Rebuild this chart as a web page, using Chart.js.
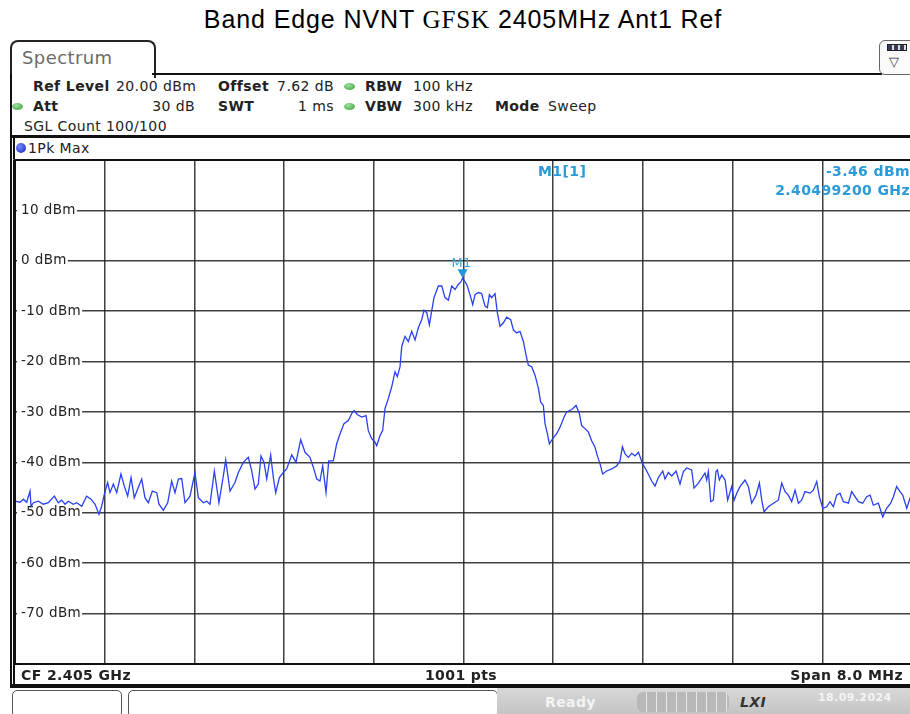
<!DOCTYPE html>
<html lang="en">
<head>
  <meta charset="UTF-8">
  <title>Band Edge NVNT GFSK 2405MHz Ant1 Ref</title>
  <script src="https://cdn.jsdelivr.net/npm/chart.js"></script>
  <style>
    body {
      margin: 0;
      width: 910px;
      height: 714px;
      overflow: hidden;
      position: relative;
      background: white;
      font-family: 'DejaVu Sans', Verdana, sans-serif;
      font-size: 14px;
      letter-spacing: 0.4px;
      color: #222;
    }
    .abs { position: absolute; white-space: nowrap; line-height: 16px; }
    .b { font-weight: bold; }
    #title {
      position: absolute;
      top: 5px;
      left: 0;
      width: 926px;
      text-align: center;
      font-family: 'Liberation Sans', Arial, sans-serif;
      font-size: 25px;
      letter-spacing: 0.9px;
      color: #000;
    }
    #title span { font-family: 'Liberation Serif', 'Times New Roman', serif; }
    #tab {
      position: absolute;
      left: 10px; top: 40px;
      width: 142px; height: 36px;
      border: 2px solid #222;
      border-bottom: none;
      border-radius: 8px 8px 0 0;
      background: white;
    }
    .line { position: absolute; background: #111; }
    .dot {
      position: absolute;
      width: 11px; height: 7px;
      border-radius: 50%;
      background: radial-gradient(ellipse at 40% 35%, #9be29b, #3a9a3a);
    }
    #chartCanvas { position: absolute; left: 0; top: 0; }
    #status {
      position: absolute; left: 0; top: 688px; width: 910px; height: 26px;
      background: white;
    }
  </style>
</head>
<body>
  <div id="title">Band Edge NVNT <span>GFSK</span> 2405MHz Ant1 Ref</div>

  <div id="tab"></div>
  <div class="abs" style="left:22px;top:48px;font-size:18px;line-height:20px;color:#6b6b6b;">Spectrum</div>
  <div class="line" style="left:152px;top:73px;width:730px;height:2px;"></div>
  <div style="position:absolute;left:879px;top:40px;width:34px;height:33px;border:1px solid #666;border-radius:6px;background:#fafafa;"></div>
  <div class="abs" style="left:887px;top:44px;width:18px;height:5px;background:repeating-linear-gradient(90deg,#3a3a5a 0 4px,#ddd 4px 6px);border:1px solid #222;"></div>
  <div class="abs" style="left:889px;top:54px;font-size:13px;color:#333;">&#9661;</div>

  <!-- left frame -->
  <div class="line" style="left:10px;top:74px;width:2px;height:616px;"></div>

  <!-- info rows -->
  <div class="abs b" style="left:33px;top:78px;">Ref Level</div>
  <div class="abs" style="left:116px;top:78px;">20.00 dBm</div>
  <div class="abs b" style="left:218px;top:78px;">Offset</div>
  <div class="abs" style="left:260px;top:78px;width:74px;text-align:right;">7.62 dB</div>
  <div class="dot" style="left:344px;top:83px;"></div>
  <div class="abs b" style="left:365px;top:78px;">RBW</div>
  <div class="abs" style="left:413px;top:78px;">100 kHz</div>

  <div class="dot" style="left:12px;top:103px;"></div>
  <div class="abs b" style="left:33px;top:98px;">Att</div>
  <div class="abs" style="left:120px;top:98px;width:75px;text-align:right;">30 dB</div>
  <div class="abs b" style="left:218px;top:98px;">SWT</div>
  <div class="abs" style="left:260px;top:98px;width:74px;text-align:right;">1 ms</div>
  <div class="dot" style="left:344px;top:103px;"></div>
  <div class="abs b" style="left:365px;top:98px;">VBW</div>
  <div class="abs" style="left:413px;top:98px;">300 kHz</div>
  <div class="abs b" style="left:495px;top:98px;">Mode</div>
  <div class="abs" style="left:548px;top:98px;">Sweep</div>

  <div class="abs" style="left:24px;top:118px;">SGL Count 100/100</div>

  <div class="line" style="left:12px;top:135px;width:900px;height:3px;"></div>
  <div class="line" style="left:13px;top:138px;width:2px;height:550px;"></div>
  <div style="position:absolute;left:16px;top:143px;width:10px;height:10px;border-radius:50%;background:radial-gradient(circle at 35% 35%, #7a8cff, #1020c0);"></div>
  <div class="abs" style="left:28px;top:140px;">1Pk Max</div>
  <div class="line" style="left:13px;top:159px;width:900px;height:1px;background:#777;"></div>

  <canvas id="chartCanvas" width="920" height="714"></canvas>

  <!-- marker readout -->
  <div class="abs b" style="left:538px;top:163px;color:#2a9ad8;">M1[1]</div>
  <div class="abs b" style="left:740px;top:163px;width:170px;text-align:right;color:#2a9ad8;">-3.46 dBm</div>
  <div class="abs b" style="left:720px;top:182px;width:190px;text-align:right;color:#2a9ad8;">2.40499200 GHz</div>

  <!-- bottom label row -->
  <div class="abs b" style="left:21px;top:667px;">CF 2.405 GHz</div>
  <div class="abs b" style="left:401px;top:667px;width:120px;text-align:center;">1001 pts</div>
  <div class="abs b" style="left:680px;top:667px;width:223px;text-align:right;">Span 8.0 MHz</div>
  <div class="line" style="left:12px;top:684px;width:900px;height:4px;"></div>

  <div id="status">
    <div style="position:absolute;left:12px;top:2px;width:108px;height:26px;border:1px solid #555;border-radius:5px;"></div>
    <div style="position:absolute;left:128px;top:2px;width:368px;height:26px;border:1px solid #555;border-radius:5px;"></div>
    <div style="position:absolute;left:497px;top:0;width:413px;height:26px;background:linear-gradient(#d8d8d8,#c4c4c4);"></div>
    <div class="abs b" style="left:545px;top:6px;color:#f4f4f4;">Ready</div>
    <div style="position:absolute;left:637px;top:4px;width:92px;height:20px;border-radius:6px;background:repeating-linear-gradient(90deg,#b8b8b8 0 9px,#e8e8e8 9px 10px);"></div>
    <div class="abs b" style="left:740px;top:6px;color:#333;font-style:italic;">LXI</div>
    <div class="abs b" style="left:818px;top:2px;color:#f4f4f4;font-size:11px;">18.09.2024</div>
  </div>

<script>
  // sweep settings
  const startMHz = 2401;
  const stopMHz = 2409;
  const xDivs = [0, 0.8, 1.6, 2.4, 3.2, 4.0, 4.8, 5.6, 6.4, 7.2, 8.0];
  const yTickLabels = [10, 0, -10, -20, -30, -40, -50, -60, -70];

  // trace: offset from start (MHz) and level (dBm)
  const freqOffsetMHz = [
    0.000, 0.045, 0.074, 0.104, 0.134, 0.143, 0.164, 0.208, 0.253, 0.297,
    0.351, 0.386, 0.416, 0.446, 0.476, 0.520, 0.550, 0.595, 0.639, 0.678,
    0.714, 0.749, 0.773, 0.797, 0.826, 0.847, 0.877, 0.907, 0.945, 0.975,
    1.005, 1.035, 1.064, 1.094, 1.130, 1.159, 1.189, 1.225, 1.264, 1.284,
    1.323, 1.362, 1.397, 1.427, 1.457, 1.487, 1.516, 1.561, 1.605, 1.635,
    1.680, 1.709, 1.739, 1.778, 1.819, 1.858, 1.879, 1.918, 1.962, 1.992,
    2.036, 2.081, 2.111, 2.141, 2.170, 2.194, 2.221, 2.245, 2.280, 2.304,
    2.325, 2.358, 2.393, 2.423, 2.468, 2.506, 2.548, 2.587, 2.631, 2.661,
    2.691, 2.720, 2.744, 2.774, 2.798, 2.839, 2.869, 2.899, 2.934, 2.973,
    3.003, 3.024, 3.053, 3.092, 3.131, 3.151, 3.181, 3.211, 3.226, 3.255,
    3.279, 3.300, 3.330, 3.360, 3.389, 3.410, 3.434, 3.449, 3.478, 3.508,
    3.538, 3.568, 3.597, 3.627, 3.648, 3.672, 3.696, 3.716, 3.737, 3.776,
    3.806, 3.835, 3.865, 3.895, 3.925, 3.954, 3.976, 3.992, 4.029, 4.058,
    4.082, 4.103, 4.133, 4.162, 4.192, 4.213, 4.231, 4.251, 4.281, 4.302,
    4.326, 4.356, 4.385, 4.421, 4.445, 4.474, 4.504, 4.534, 4.558, 4.578,
    4.608, 4.638, 4.668, 4.688, 4.712, 4.727, 4.748, 4.766, 4.796, 4.831,
    4.861, 4.897, 4.920, 4.965, 5.004, 5.033, 5.054, 5.084, 5.114, 5.143,
    5.173, 5.194, 5.218, 5.241, 5.277, 5.322, 5.366, 5.396, 5.417, 5.441,
    5.470, 5.500, 5.530, 5.560, 5.598, 5.634, 5.679, 5.708, 5.738, 5.777,
    5.797, 5.827, 5.857, 5.896, 5.931, 5.961, 5.991, 6.035, 6.056, 6.095,
    6.124, 6.154, 6.169, 6.184, 6.205, 6.228, 6.252, 6.264, 6.282, 6.303,
    6.333, 6.356, 6.392, 6.413, 6.437, 6.466, 6.511, 6.541, 6.570, 6.609,
    6.639, 6.660, 6.680, 6.719, 6.764, 6.808, 6.838, 6.868, 6.897, 6.927,
    6.957, 6.987, 7.016, 7.046, 7.091, 7.120, 7.150, 7.174, 7.204, 7.239,
    7.269, 7.299, 7.328, 7.358, 7.388, 7.433, 7.462, 7.492, 7.522, 7.560,
    7.596, 7.626, 7.655, 7.700, 7.739, 7.774, 7.810, 7.834, 7.863, 7.893,
    7.917, 7.953, 7.982, 8.000
  ];
  const levelDbm = [
    -47.7, -47.9, -47.3, -47.9, -45.7, -48.7, -48.0, -47.7, -48.3, -48.0,
    -46.7, -48.0, -47.5, -48.3, -47.7, -48.3, -48.0, -48.7, -46.7, -47.3,
    -48.3, -50.3, -48.7, -46.3, -44.0, -46.0, -44.3, -46.0, -42.3, -44.7,
    -46.7, -43.0, -47.0, -45.3, -43.3, -47.0, -48.0, -45.7, -46.0, -48.3,
    -49.5, -48.0, -43.7, -46.0, -43.3, -43.2, -48.0, -46.7, -42.0, -47.0,
    -48.0, -47.7, -48.3, -41.7, -48.0, -42.7, -39.5, -45.7, -44.0, -42.0,
    -40.0, -39.0, -41.7, -45.3, -44.3, -38.7, -40.0, -43.3, -38.5, -43.0,
    -46.0, -43.0, -42.0, -41.3, -38.5, -40.0, -35.5, -38.0, -39.0, -41.0,
    -43.3, -43.7, -40.7, -46.0, -39.7, -39.7, -36.3, -34.3, -32.3, -31.7,
    -30.3, -29.7, -30.5, -31.0, -30.7, -33.7, -35.3, -36.0, -36.7, -34.7,
    -33.7, -29.3, -27.3, -25.0, -22.0, -23.0, -21.0, -17.0, -15.0, -16.0,
    -14.0, -15.7, -13.3, -11.7, -9.8, -10.3, -12.7, -10.0, -7.3, -5.0,
    -5.0, -7.3, -7.8, -5.0, -5.7, -4.7, -4.2, -3.46, -4.7, -6.7,
    -8.7, -6.7, -6.3, -6.5, -9.0, -9.3, -6.7, -7.3, -6.5, -10.3,
    -13.0, -12.3, -11.2, -11.7, -13.7, -14.3, -14.0, -16.0, -18.7, -20.7,
    -21.0, -22.7, -25.3, -28.0, -28.7, -32.3, -34.3, -36.3, -35.3, -34.3,
    -33.0, -31.0, -30.0, -29.5, -28.7, -30.3, -32.7, -33.3, -34.0, -35.7,
    -37.0, -38.7, -40.3, -42.3, -41.7, -41.3, -40.7, -39.7, -36.9, -38.3,
    -39.0, -38.2, -38.7, -38.0, -40.3, -41.7, -43.7, -44.7, -43.0, -41.7,
    -43.3, -42.0, -42.7, -41.7, -44.3, -41.8, -41.1, -41.5, -45.1, -44.1,
    -43.1, -42.1, -43.5, -41.8, -47.8, -47.5, -41.8, -41.5, -43.5, -42.5,
    -43.5, -47.5, -44.8, -47.5, -46.1, -44.8, -43.5, -44.8, -48.1, -46.5,
    -44.1, -47.5, -49.8, -48.8, -48.1, -47.5, -44.1, -45.8, -46.5, -47.8,
    -45.5, -48.1, -47.5, -45.8, -46.1, -45.5, -43.8, -46.8, -49.1, -48.8,
    -47.8, -48.8, -46.5, -46.1, -47.8, -48.1, -45.8, -46.8, -47.8, -48.1,
    -46.8, -46.5, -48.5, -48.1, -50.8, -49.1, -48.1, -46.8, -44.8, -45.8,
    -46.5, -49.1, -47.1, -47.5
  ];

  const tracePoints = freqOffsetMHz.map((f, i) => ({ x: startMHz + f, y: levelDbm[i] }));

  // frame, y labels and marker drawn with the chart's own scales
  const analyzerPlugin = {
    id: 'analyzer',
    beforeDatasetsDraw(chart) {
      const ctx = chart.ctx;
      const y = chart.scales.y;
      const area = chart.chartArea;
      ctx.save();
      ctx.font = '13.5px "DejaVu Sans", Verdana, sans-serif';
      ctx.textBaseline = 'middle';
      ctx.textAlign = 'left';
      yTickLabels.forEach(v => {
        const py = y.getPixelForValue(v);
        const txt = v + ' dBm';
        const w = ctx.measureText(txt).width;
        ctx.fillStyle = 'white';
        ctx.fillRect(area.left + 2, py - 3, w + 5, 6);
        ctx.fillStyle = '#222';
        ctx.fillText(txt, area.left + 6, py);
      });
      ctx.restore();
    },
    afterDraw(chart) {
      const ctx = chart.ctx;
      const area = chart.chartArea;
      const xs = chart.scales.x, ys = chart.scales.y;
      ctx.save();
      ctx.strokeStyle = '#111';
      ctx.lineWidth = 2;
      ctx.strokeRect(area.left, area.top, area.right - area.left, area.bottom - area.top);

      // M1 marker at the peak
      let peak = 0;
      levelDbm.forEach((v, i) => { if (v > levelDbm[peak]) peak = i; });
      const mx = xs.getPixelForValue(startMHz + freqOffsetMHz[peak]);
      const my = ys.getPixelForValue(levelDbm[peak]);
      ctx.fillStyle = '#1e96dc';
      ctx.beginPath();
      ctx.moveTo(mx - 5, my - 9);
      ctx.lineTo(mx + 5, my - 9);
      ctx.lineTo(mx, my);
      ctx.closePath();
      ctx.fill();
      ctx.font = '13px "DejaVu Sans", Verdana, sans-serif';
      ctx.fillStyle = '#3aa6e0';
      ctx.textAlign = 'center';
      ctx.textBaseline = 'bottom';
      ctx.fillText('M1', mx - 1, my - 8);
      ctx.restore();
    }
  };

  new Chart(document.getElementById('chartCanvas').getContext('2d'), {
    type: 'line',
    data: {
      datasets: [{
        data: tracePoints,
        borderColor: '#2840f0',
        borderWidth: 1.3,
        pointRadius: 0,
        tension: 0
      }]
    },
    options: {
      responsive: false,
      animation: false,
      layout: { padding: { left: 15, top: 160, right: 8, bottom: 50 } },
      plugins: { legend: { display: false }, tooltip: { enabled: false } },
      scales: {
        x: {
          type: 'linear',
          min: startMHz,
          max: stopMHz,
          afterBuildTicks: s => { s.ticks = xDivs.map(d => ({ value: startMHz + d })); },
          ticks: { display: false },
          grid: { color: 'rgba(30,30,30,0.85)', lineWidth: 1.5, drawTicks: false },
          border: { display: false }
        },
        y: {
          min: -80,
          max: 20,
          ticks: { display: false, stepSize: 10 },
          grid: { color: 'rgba(30,30,30,0.85)', lineWidth: 1.5, drawTicks: false },
          border: { display: false }
        }
      }
    },
    plugins: [analyzerPlugin]
  });
</script>
</body>
</html>
